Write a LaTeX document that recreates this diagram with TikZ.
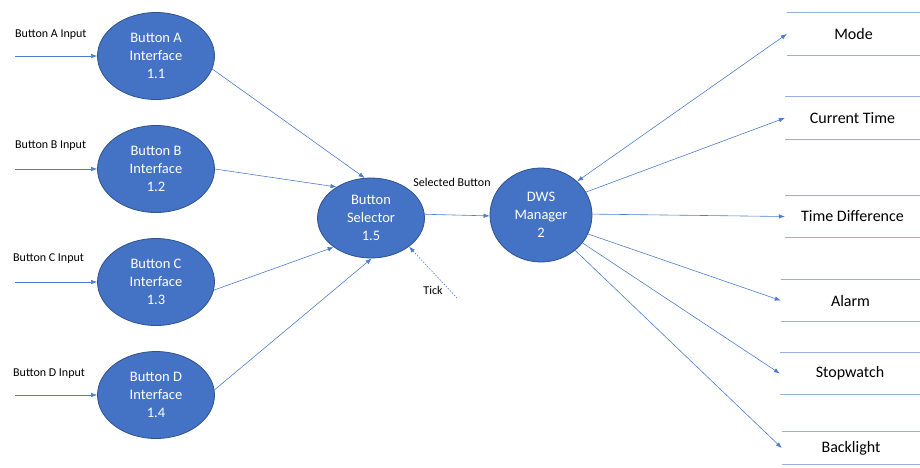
\documentclass[tikz,border=0pt]{standalone}
\usepackage{fontspec}
\setmainfont{Carlito}
\usetikzlibrary{shapes.geometric,arrows.meta}
\definecolor{procfill}{RGB}{68,114,196}
\definecolor{procdraw}{RGB}{47,82,143}
\definecolor{flow}{RGB}{78,124,204}
\definecolor{storeline}{RGB}{150,176,224}
\tikzset{
  proc/.style={ellipse, fill=procfill, draw=procdraw, line width=0.8pt, inner sep=0pt,
    text=white, align=center, font=\fontsize{14.5}{18}\selectfont},
  flowline/.style={draw=flow, line width=0.6pt, -{Latex[length=6pt,width=4.5pt]}},
  lbl/.style={font=\fontsize{12}{14}\selectfont, text=black, inner sep=0pt},
  store/.style={minimum height=42pt, inner sep=0pt, font=\fontsize{16}{18}\selectfont},
  storeedge/.style={draw=storeline, line width=0.8pt}
}
\begin{document}
\begin{tikzpicture}[x=1pt,y=-1pt]
\useasboundingbox (0,0) rectangle (920,467);
% processes
\node[proc, minimum width=117pt, minimum height=87pt] (A) at (156,56) {Button A\\Interface\\1.1};
\node[proc, minimum width=117pt, minimum height=87pt] (B) at (156,169) {Button B\\Interface\\1.2};
\node[proc, minimum width=117pt, minimum height=87pt] (C) at (156,282) {Button C\\Interface\\1.3};
\node[proc, minimum width=117pt, minimum height=87pt] (D) at (156,395) {Button D\\Interface\\1.4};
\node[proc, minimum width=107pt, minimum height=80pt] (S) at (371,218) {Button\\Selector\\1.5};
\node[proc, minimum width=102pt, minimum height=94pt] (M) at (541,215) {DWS\\Manager\\2};
% inputs
\coordinate (inA) at (15,56);
\coordinate (inB) at (15,169);
\coordinate (inC) at (15,282);
\coordinate (inD) at (15,395);
\node[lbl, anchor=west] (lA) at (15,35) {Button A Input};
\node[lbl, anchor=west] (lB) at (15,146) {Button B Input};
\node[lbl, anchor=west] (lC) at (13,259) {Button C Input};
\node[lbl, anchor=west] (lD) at (13,374) {Button D Input};
\draw[flowline] (inA) -- (A.west);
\draw[flowline] (inB) -- (B.west);
\draw[flowline] (inC) -- (C.west);
\draw[flowline] (inD) -- (D.west);
% to selector
\draw[flowline] (A.-13) -- (S.99);
\draw[flowline] (B.0) -- (S.138);
\draw[flowline] (C.-8) -- (S.218);
\draw[flowline] (D.5) -- (S.271);
% selector to manager
\draw[flowline] (S.4) -- (M.181);
\node[lbl] (selb) at (452,182) {Selected Button};
% tick
\coordinate (tk) at (457,298);
\draw[flowline, dashed, dash pattern=on 1.5pt off 1.5pt] (tk) -- (S.-37);
\node[lbl] (tick) at (433,290) {Tick};
% stores
\node[store, minimum width=133pt] (s1) at (853.5,34) {Mode};
\node[store, minimum width=135pt] (s2) at (852.5,118) {Current Time};
\node[store, minimum width=135pt] (s3) at (852.5,216.5) {Time Difference};
\node[store, minimum width=139pt] (s4) at (850.5,300.5) {Alarm};
\node[store, minimum width=140pt] (s5) at (850,373.5) {Stopwatch};
\node[store, minimum width=138pt, minimum height=32pt] (s6) at (851,448) {Backlight};
\foreach \s in {s1,s2,s3,s4,s5,s6}{
  \draw[storeedge] (\s.north west) -- (\s.north east);
  \draw[storeedge] (\s.south west) -- (\s.south east);
}
% outputs
\draw[flowline, {Latex[length=6pt,width=4.5pt]}-{Latex[length=6pt,width=4.5pt]}] (M.43) -- (s1.west);
\draw[flowline] (M.27) -- (s2.west);
\draw[flowline] (M.1) -- (s3.west);
\draw[flowline] (M.-22) -- (s4.west);
\draw[flowline] (M.-34) -- (s5.west);
\draw[flowline] (M.-46) -- (s6.west);
\end{tikzpicture}
\end{document}
